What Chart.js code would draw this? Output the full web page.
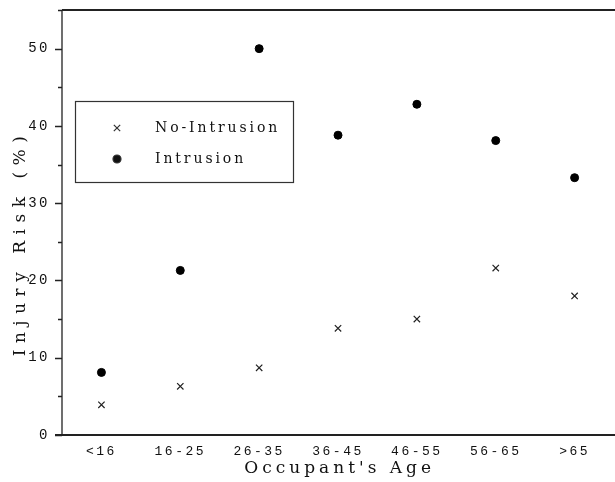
<!DOCTYPE html>
<html>
<head>
<meta charset="utf-8">
<script src="https://cdn.jsdelivr.net/npm/chart.js@4/dist/chart.umd.min.js"></script>
<style>
  html, body { margin: 0; padding: 0; background: #fff; }
  #wrap { width: 615px; height: 482px; }
</style>
</head>
<body>
<div id="wrap"><canvas id="injury-risk"></canvas></div>
<script>
// injury risk by occupant age
const categories = ['<16', '16-25', '26-35', '36-45', '46-55', '56-65', '>65']
const noIntrusion = [3.9, 6.3, 8.7, 13.8, 15.0, 21.6, 18.0]
const intrusion = [8.1, 21.3, 50.0, 38.8, 42.8, 38.1, 33.3]
const seriesLabels = ['No-Intrusion', 'Intrusion']
const xTitle = "Occupant's Age"
const yTitle = 'Injury Risk (%)'

const monoFont = "'Liberation Mono', 'DejaVu Sans Mono', monospace"
const serifFont = "'DejaVu Serif', 'Liberation Serif', serif"

function toPoints(values) {
  return values.map((v, i) => ({ x: i + 1, y: v }))
}

// ticks, frame, axis titles and the boxed legend
const framePlugin = {
  id: 'frame',
  beforeDraw(chart) {
    chart.ctx.letterSpacing = '2.5px'
  },
  afterDraw(chart) {
    const ctx = chart.ctx
    const area = chart.chartArea
    const y = chart.scales.y

    ctx.save()
    ctx.letterSpacing = '0px'
    ctx.strokeStyle = '#222'

    // top line
    ctx.lineWidth = 2
    ctx.beginPath()
    ctx.moveTo(area.left, area.top)
    ctx.lineTo(chart.width, area.top)
    ctx.stroke()

    // bottom line runs a bit left of the y axis
    ctx.beginPath()
    ctx.moveTo(area.left - 7, area.bottom)
    ctx.lineTo(chart.width, area.bottom)
    ctx.stroke()

    // y axis with major / minor ticks
    ctx.lineWidth = 1.3
    ctx.beginPath()
    ctx.moveTo(area.left, area.top)
    ctx.lineTo(area.left, area.bottom)
    y.ticks.forEach(t => {
      const py = Math.round(y.getPixelForValue(t.value)) + 0.5
      const len = t.value % 10 === 0 ? 7 : 4
      ctx.moveTo(area.left - len, py)
      ctx.lineTo(area.left, py)
    })
    ctx.stroke()

    // axis titles
    ctx.fillStyle = '#111'
    ctx.textAlign = 'center'
    ctx.textBaseline = 'middle'
    ctx.font = '17px ' + serifFont
    ctx.letterSpacing = '4px'
    ctx.fillText(xTitle, (area.left + area.right) / 2 + 4, 469)

    ctx.save()
    ctx.translate(21, 243)
    ctx.rotate(-Math.PI / 2)
    ctx.letterSpacing = '6.5px'
    ctx.fillText(yTitle, 0, 0)
    ctx.restore()

    // legend box
    const bx = area.left + 13
    const by = 101
    ctx.lineWidth = 1.2
    ctx.strokeStyle = '#333'
    ctx.strokeRect(bx + 0.5, by + 0.5, 218, 81)

    ctx.font = '14px ' + serifFont
    ctx.letterSpacing = '2.9px'
    ctx.textAlign = 'left'
    chart.data.datasets.forEach((ds, i) => {
      const ly = by + 27 + i * 31
      Chart.helpers.drawPoint(ctx, {
        pointStyle: ds.pointStyle,
        radius: ds.pointRadius,
        borderWidth: ds.borderWidth,
      }, bx + 42, ly)
      ctx.fillStyle = '#111'
      ctx.fillText(ds.label, bx + 80, ly)
    })
    ctx.restore()
  },
}

const ctx = document.getElementById('injury-risk').getContext('2d')

const riskChart = new Chart(ctx, {
  type: 'scatter',
  data: {
    datasets: [
      {
        label: seriesLabels[0],
        data: toPoints(noIntrusion),
        pointStyle: 'crossRot',
        pointRadius: 4.5,
        borderColor: '#222',
        backgroundColor: '#222',
        borderWidth: 1.2,
      },
      {
        label: seriesLabels[1],
        data: toPoints(intrusion),
        pointStyle: 'circle',
        pointRadius: 4,
        borderColor: '#000',
        backgroundColor: '#000',
        borderWidth: 1,
      },
    ],
  },
  options: {
    responsive: true,
    maintainAspectRatio: false,
    animation: false,
    layout: {
      padding: { top: 10, left: 0, right: 0, bottom: 0 },
    },
    scales: {
      x: {
        type: 'linear',
        min: 0.5,
        max: 7.44,
        grid: { display: false, drawTicks: false },
        border: { display: false },
        afterBuildTicks(scale) {
          scale.ticks = categories.map((c, i) => ({ value: i + 1 }))
        },
        afterFit(scale) {
          scale.height = 47
          scale.paddingLeft = 0
          scale.paddingRight = 0
        },
        ticks: {
          color: '#111',
          padding: 9,
          font: { family: monoFont, size: 13 },
          callback: value => categories[value - 1],
        },
      },
      y: {
        min: 0,
        max: 55,
        grid: { display: false, drawTicks: false },
        border: { display: false },
        afterFit(scale) {
          scale.width = 62
          scale.paddingTop = 0
          scale.paddingBottom = 0
        },
        ticks: {
          stepSize: 5,
          color: '#111',
          padding: 12,
          font: { family: monoFont, size: 14 },
          callback: value => (value % 10 === 0 ? value : ''),
        },
      },
    },
    plugins: {
      legend: { display: false },
      tooltip: { enabled: false },
    },
  },
  plugins: [framePlugin],
})
</script>
</body>
</html>
